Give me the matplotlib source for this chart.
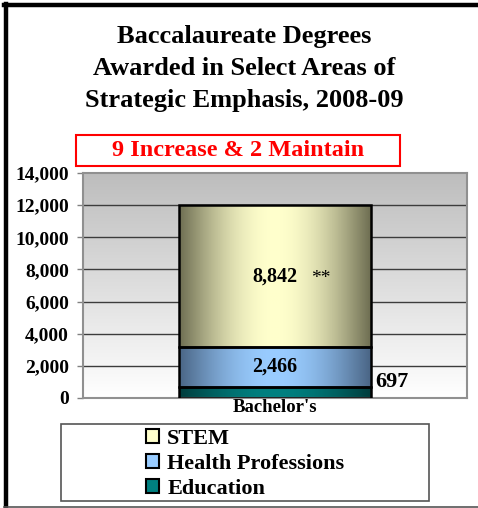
import matplotlib.pyplot as plt
import numpy as np
from matplotlib.patches import Rectangle, Patch
from matplotlib.colors import LinearSegmentedColormap

# data
category = ["Bachelor's"]
series = ["Education", "Health Professions", "STEM"]
values = [697, 2466, 8842]
value_labels = ["697", "2,466", "8,842"]
edge_colors = ["#003c3c", "#4a6585", "#6e6e52"]
mid_colors = ["#008080", "#99ccff", "#ffffcc"]
yticks = [0, 2000, 4000, 6000, 8000, 10000, 12000, 14000]

W, H = 478, 508
plt.rcParams['font.family'] = ['Liberation Serif', 'DejaVu Serif']
plt.rcParams['font.weight'] = 'bold'

fig = plt.figure(figsize=(W / 100, H / 100), dpi=100)


def fx(px):
    return px / W


def fy(py):
    return 1 - py / H


# outer frame
fig.add_artist(plt.Line2D([fx(6), fx(6)], [fy(4), fy(506)], color='black', lw=3.2))
fig.add_artist(plt.Line2D([fx(4), fx(478)], [fy(5), fy(5)], color='black', lw=3.2))
fig.add_artist(plt.Line2D([fx(4), fx(478)], [fy(506.5), fy(506.5)], color='#555555', lw=1.2))

# title
title_lines = ["Baccalaureate Degrees", "Awarded in Select Areas of", "Strategic Emphasis, 2008-09"]
for i, line in enumerate(title_lines):
    fig.text(fx(244), fy(37 + 31.5 * i), line, ha='center', va='center',
             fontsize=19, fontweight='bold')

# red box
fig.add_artist(Rectangle((fx(76), fy(166)), fx(324), 31 / H, transform=fig.transFigure,
                         fill=False, edgecolor='#ff0000', lw=1.5))
fig.text(fx(238), fy(151), "9 Increase & 2 Maintain", ha='center', va='center',
         fontsize=17.5, fontweight='bold', color='#ff0000')

# plot area
ax = fig.add_axes([fx(83), fy(398), 384 / W, 225 / H])
ax.set_xlim(-1, 1)
ax.set_ylim(0, 14000)

bg = LinearSegmentedColormap.from_list('bg', ['#ffffff', '#bdbdbd'])
grad = np.linspace(0, 1, 256).reshape(-1, 1)
ax.imshow(grad, extent=[-1, 1, 0, 14000], origin='lower', aspect='auto', cmap=bg, zorder=0)

for y in yticks[1:-1]:
    ax.axhline(y, color='#3c3c3c', lw=1.0, zorder=1)

bottom = 0
xg = np.linspace(0, 1, 256)
hgrad = np.sin(np.pi * xg).reshape(1, -1)
for i, v in enumerate(values):
    bars = ax.bar(0, v, width=1.0, bottom=bottom, color='none', edgecolor='black', lw=1.8, zorder=3)
    rect = bars[0]
    cm = LinearSegmentedColormap.from_list('c%d' % i, [edge_colors[i], mid_colors[i]])
    im = ax.imshow(hgrad, extent=[-0.5, 0.5, bottom, bottom + v], aspect='auto', cmap=cm, zorder=2)
    im.set_clip_path(rect)
    bottom += v

# value labels
ax.text(0, values[0] + values[1] / 2, value_labels[1], ha='center', va='center',
        fontsize=14.5, fontweight='bold', zorder=4)
ax.text(0, values[0] + values[1] + values[2] / 2, value_labels[2], ha='center', va='center',
        fontsize=14.5, fontweight='bold', zorder=4)
ax.text(0.24, values[0] + values[1] + values[2] / 2 - 150, "**", ha='center', va='center',
        fontsize=14, fontweight='normal', zorder=4)
ax.text(0.52, 1000, value_labels[0], ha='left', va='center', fontsize=16, fontweight='bold')

ax.set_xticks([0])
ax.set_xticklabels(category, fontsize=13.5, fontweight='bold')
ax.tick_params(axis='x', length=0, pad=1)
ax.set_yticks(yticks)
ax.set_yticklabels(["{:,}".format(t) for t in yticks], fontsize=14, fontweight='bold')
ax.tick_params(axis='y', length=4, width=1, color='#808080', pad=6)
for s in ax.spines.values():
    s.set_color('#909090')
    s.set_linewidth(1.5)

# legend
fig.add_artist(Rectangle((fx(61), fy(501)), 368 / W, 77 / H, transform=fig.transFigure,
                         fill=False, edgecolor='#555555', lw=1.2))
handles = [Patch(facecolor=mid_colors[i], edgecolor='black', lw=1.5, label=series[i])
           for i in [2, 1, 0]]
fig.legend(handles=handles, loc='upper left', bbox_to_anchor=(fx(146), fy(429)),
           frameon=False, fontsize=16, handlelength=0.6, handleheight=0.6,
           handletextpad=0.35, labelspacing=0.22, borderpad=0, borderaxespad=0)

fig.savefig('out.png', dpi=100)
